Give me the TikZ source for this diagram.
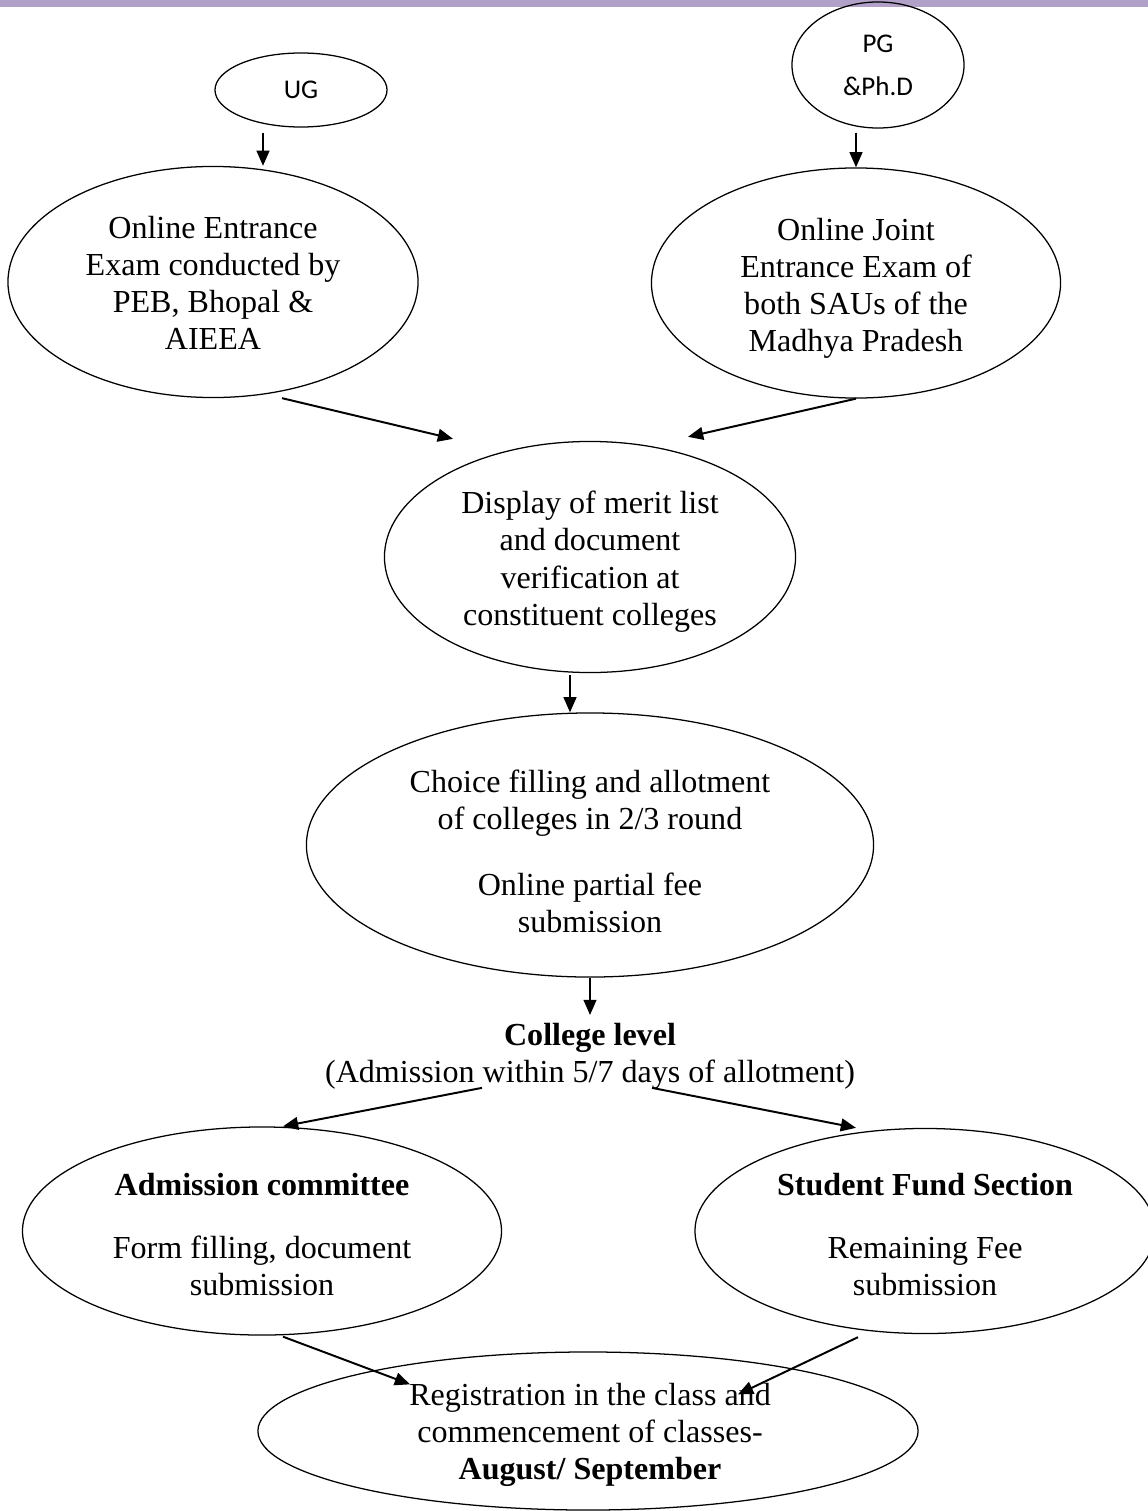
\documentclass[tikz,border=0pt]{standalone}
\usepackage{fontspec}
\setmainfont{Liberation Serif}
\newfontfamily\calibri{Carlito}
\usetikzlibrary{arrows.meta,shapes.geometric,calc}
\definecolor{hdrbar}{RGB}{177,160,199}

\begin{document}
\begin{tikzpicture}[x=0.025cm, y=-0.025cm,
  oval/.style={draw, ellipse, line width=0.9pt, inner sep=0pt},
  txt/.style={font=\fontsize{22.8}{26.4}\selectfont, align=center, inner sep=0pt, anchor=north},
  tag/.style={font=\calibri\fontsize{19.2}{30.5}\selectfont, align=center},
  arr/.style={-{Triangle[length=0.38cm,width=0.32cm]}, line width=1.4pt},
]
\useasboundingbox (0,0) rectangle (1148,1511);
\fill[hdrbar] (0,0) rectangle (1148,7);

% Programmes
\node[oval, tag, minimum width=4.3cm, minimum height=1.85cm] (ug) at (301,90) {UG};
\node[oval, tag, minimum width=4.3cm, minimum height=3.15cm] (pg) at (878,65) {PG\\\&Ph.D};

% Entrance exams
\node[oval, minimum width=10.25cm, minimum height=5.775cm] (entr) at (213,282) {};
\node[txt] (entrtext) at (213,216) {Online Entrance\\Exam conducted by\\PEB, Bhopal \&\\AIEEA};
\node[oval, minimum width=10.225cm, minimum height=5.75cm] (joint) at (856,283) {};
\node[txt] (jointtext) at (856,218) {Online Joint\\Entrance Exam of\\both SAUs of the\\Madhya Pradesh};

% Merit list
\node[oval, minimum width=10.275cm, minimum height=5.775cm] (disp) at (590,557) {};
\node[txt] (disptext) at (590,491) {Display of merit list\\and document\\verification at\\constituent colleges};

% Counselling
\node[oval, minimum width=14.175cm, minimum height=6.6cm] (choice) at (590,845) {};
\node[txt] (choicetext) at (590,770) {Choice filling and allotment\\of colleges in 2/3 round\\[0.7cm]Online partial fee\\submission};

% College level
\node[txt] (coll) at (590,1023) {\textbf{College level}\\(Admission within 5/7 days of allotment)};

\node[oval, minimum width=11.975cm, minimum height=5.2cm] (adm) at (262,1231) {};
\node[txt] (admtext) at (262,1173) {\textbf{Admission committee}\\[0.65cm]Form filling, document\\submission};
\node[oval, minimum width=11.5cm, minimum height=5.125cm] (fund) at (925,1231) {};
\node[txt] (fundtext) at (925,1173) {\textbf{Student Fund Section}\\[0.65cm]Remaining Fee\\submission};

% Registration
\node[oval, minimum width=16.5cm, minimum height=3.95cm] (reg) at (588,1431) {};
\node[txt] (regtext) at (590,1383) {Registration in the class and\\commencement of classes-\\\textbf{August/ September}};

% Arrows
\draw[arr] ($(ug.south)+(-38,5)$) -- ($(entr.north)+(50,0)$);
\draw[arr] ($(pg.south -| joint.north)+(0,4)$) -- (joint.north);
\draw[arr] ($(entr.south)+(69,0)$) -- ($(disp.north)+(-137,-2)$);
\draw[arr] (joint.south) -- ($(disp.north)+(98,-4)$);
\draw[arr] ($(disp.south)+(-20,2)$) -- ($(choice.north)+(-20,0)$);
\draw[arr] (choice.south) -- ($(coll.north)+(0,-8)$);
\draw[arr] ($(coll.south)+(-108,-2)$) -- ($(adm.north)+(21,0)$);
\draw[arr] ($(coll.south)+(62,-2)$) -- ($(fund.north)+(-69,0)$);
\draw[arr] ($(adm.south)+(21,1)$) -- ($(reg.north)+(-178,33)$);
\draw[arr] ($(fund.south)+(-67,3)$) -- ($(reg.north)+(150,43)$);
\end{tikzpicture}
\end{document}
